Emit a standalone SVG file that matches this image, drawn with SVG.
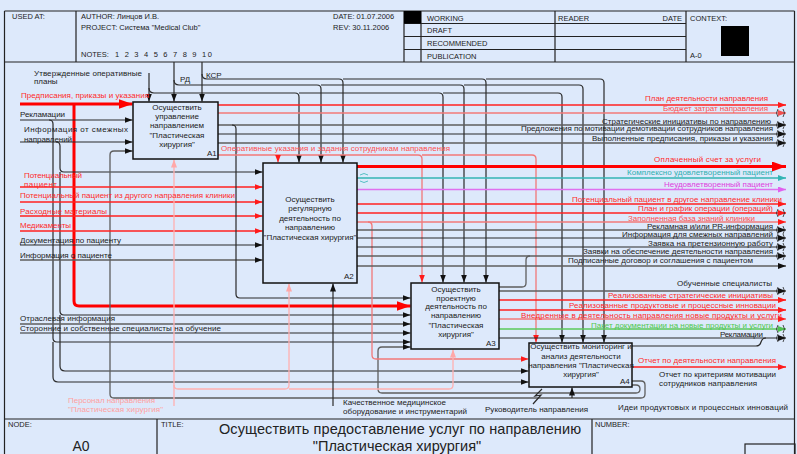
<svg xmlns="http://www.w3.org/2000/svg" width="797" height="454" viewBox="0 0 797 454">
<style>
.bg{fill:#dde9fb}
.fr{fill:none;stroke:#222;stroke-width:1.2}
.k{fill:none;stroke:#2a2a2a;stroke-width:1.2}
.g{fill:none;stroke:#5e5e5e;stroke-width:1.3}
.r{fill:none;stroke:#ff2020;stroke-width:1.3}
.R{fill:none;stroke:#ff0000;stroke-width:3}
.l{fill:none;stroke:#f27878;stroke-width:1.3}
.p{fill:none;stroke:#ffb0b0;stroke-width:1.3}
.t{fill:none;stroke:#33b5b5;stroke-width:1.3}
.m{fill:none;stroke:#e070ee;stroke-width:1.5}
.gr{fill:none;stroke:#5ac85a;stroke-width:1.3}
.tn{fill:none;stroke:#222;stroke-width:0.8}
.box{fill:#dde9fb;stroke:#111;stroke-width:1.5}
text{font-family:"Liberation Sans",Arial,sans-serif;font-size:8px;fill:#222}
.h{font-size:7.5px}
.bt{text-anchor:middle}
.tr{fill:#ff2a2a}
.tl{fill:#ff5050}
.tp{fill:#ffa0a0}
.tt{fill:#30b0b0}
.tm{fill:#e040e0}
.tg{fill:#50c850}
</style>
<defs>
<marker id="ah" viewBox="0 0 8 6" refX="8" refY="3" markerWidth="8" markerHeight="6" markerUnits="userSpaceOnUse" orient="auto"><path d="M0,0 L8,3 L0,6 z" fill="#111"/></marker>
<marker id="ahr" viewBox="0 0 8 6" refX="8" refY="3" markerWidth="8" markerHeight="6" markerUnits="userSpaceOnUse" orient="auto"><path d="M0,0 L8,3 L0,6 z" fill="#ff1a1a"/></marker>
<marker id="ahR" viewBox="0 0 14 10" refX="14" refY="5" markerWidth="14" markerHeight="10" markerUnits="userSpaceOnUse" orient="auto"><path d="M0,0 L14,5 L0,10 z" fill="#ff0000"/></marker>
<marker id="ahl" viewBox="0 0 8 6" refX="8" refY="3" markerWidth="8" markerHeight="6" markerUnits="userSpaceOnUse" orient="auto"><path d="M0,0 L8,3 L0,6 z" fill="#f05050"/></marker>
<marker id="ahp" viewBox="0 0 8 6" refX="8" refY="3" markerWidth="8" markerHeight="6" markerUnits="userSpaceOnUse" orient="auto"><path d="M0,0 L8,3 L0,6 z" fill="#ffa8a8"/></marker>
<marker id="aht" viewBox="0 0 8 6" refX="8" refY="3" markerWidth="8" markerHeight="6" markerUnits="userSpaceOnUse" orient="auto"><path d="M0,0 L8,3 L0,6 z" fill="#33b5b5"/></marker>
<marker id="ahm" viewBox="0 0 8 6" refX="8" refY="3" markerWidth="8" markerHeight="6" markerUnits="userSpaceOnUse" orient="auto"><path d="M0,0 L8,3 L0,6 z" fill="#e060ee"/></marker>
<marker id="ahg" viewBox="0 0 8 6" refX="8" refY="3" markerWidth="8" markerHeight="6" markerUnits="userSpaceOnUse" orient="auto"><path d="M0,0 L8,3 L0,6 z" fill="#50c050"/></marker>
</defs>
<rect class="bg" x="0" y="0" width="797" height="454"/>

<g id="frame">
<path class="fr" d="M4.5,11 H794.5 M4.5,11 V454 M794.5,11 V454 M4.5,62 H794.5 M4.5,419 H794.5"/>
<path class="fr" d="M76,11 V62 M404,11 V62 M421,11 V62 M555,11 V62 M686,11 V62 M404,23.5 H686 M404,36.5 H686 M404,49.5 H686"/>
<rect x="404" y="11" width="17" height="12.5" fill="#000"/>
<rect x="721" y="26" width="28" height="30" fill="#000"/>
<text class="h" x="12" y="18.5">USED AT:</text>
<text class="h" x="81" y="18.5">AUTHOR:  Линцов И.В.</text>
<text class="h" x="81" y="30">PROJECT:  Система "Medical Club"</text>
<text class="h" x="81" y="57">NOTES:</text>
<text class="h" x="115" y="57" textLength="97">1 2 3 4 5 6 7 8 9 10</text>
<text class="h" x="333" y="18.5">DATE:  01.07.2006</text>
<text class="h" x="333" y="30">REV:    30.11.2006</text>
<text class="h" x="427" y="20.5">WORKING</text>
<text class="h" x="427" y="33">DRAFT</text>
<text class="h" x="427" y="46">RECOMMENDED</text>
<text class="h" x="427" y="58.5">PUBLICATION</text>
<text class="h" x="558" y="20.5">READER</text>
<text class="h" x="682" y="20.5" text-anchor="end">DATE</text>
<text class="h" x="690" y="20.5">CONTEXT:</text>
<text class="h" x="690" y="58">A-0</text>
<path class="fr" d="M157,419 V454 M592,419 V454"/>
<rect x="745" y="444" width="50" height="12" fill="none" stroke="#222" stroke-width="1.2"/>
<text class="h" x="8" y="427">NODE:</text>
<text class="h" x="161" y="427">TITLE:</text>
<text class="h" x="595" y="427">NUMBER:</text>
<text x="81" y="451" text-anchor="middle" style="font-size:14px">A0</text>
<text x="219" y="434" textLength="362" style="font-size:14.5px">Осуществить предоставление услуг по направлению</text>
<text x="397" y="451" text-anchor="middle" style="font-size:14.5px">"Пластическая хирургия"</text>
</g>

<g id="connectors">
<path class="k" d="M149,73 V101.5" marker-end="url(#ah)"/>
<path class="k" d="M149,88 Q149,93 154,93 H295 Q299,93 299,97 V162.5" marker-end="url(#ah)"/>
<path class="k" d="M299,93 H439 Q443,93 443,97 V282.5" marker-end="url(#ah)"/>
<path class="k" d="M443,93 H558 Q562,93 562,97 V342.5" marker-end="url(#ah)"/>
<path class="k" d="M174,62 V101.5" marker-end="url(#ah)"/>
<path class="k" d="M174,80 Q174,85 179,85 H317 Q321,85 321,89 V162.5" marker-end="url(#ah)"/>
<path class="k" d="M321,85 H460 Q464,85 464,89 V282.5" marker-end="url(#ah)"/>
<path class="k" d="M464,85 H579 Q583,85 583,89 V342.5" marker-end="url(#ah)"/>
<path class="k" d="M202,62 V101.5" marker-end="url(#ah)"/>
<path class="k" d="M202,74 Q202,79 207,79 H339 Q343,79 343,83 V162.5" marker-end="url(#ah)"/>
<path class="k" d="M343,79 H482 Q486,79 486,83 V282.5" marker-end="url(#ah)"/>
<path class="k" d="M486,79 H600 Q604,79 604,83 V342.5" marker-end="url(#ah)"/>
<path class="R" d="M20,104 H132.5" marker-end="url(#ahR)"/>
<path class="R" d="M74,104 V301 Q74,306 79,306 H410.5" marker-end="url(#ahR)"/>
<path class="k" d="M20,120 H132.5" marker-end="url(#ah)"/>
<path class="k" d="M49,120 Q53,120 53,124 V338 Q53,342 57,342 H410.5" marker-end="url(#ah)"/>
<path class="k" d="M53,342 V377 Q53,382 58,382 H528.5" marker-end="url(#ah)"/>
<path class="k" d="M20,142 H132.5" marker-end="url(#ah)"/>
<path class="k" d="M56,142 Q60,142 60,146 V168 Q60,172 64,172 H262.5" marker-end="url(#ah)"/>
<path class="k" d="M60,172 V311 Q60,315 64,315 H410.5" marker-end="url(#ah)"/>
<path class="k" d="M60,315 V366 Q60,371 65,371 H528.5" marker-end="url(#ah)"/>
<path class="g" d="M632,381 H641 Q645,381 645,385 V394 Q645,398 641,398 H114 Q110,398 110,394 V155 Q110,151 114,151 H132.5" marker-end="url(#ah)"/>
<path class="g" d="M632,385 H636 Q640,385 640,389 Q640,393 636,393 H382 Q378,393 378,389 V351 Q378,347 382,347 H410.5" marker-end="url(#ah)"/>
<path class="r" d="M20,187 H262.5" marker-end="url(#ahr)"/>
<path class="r" d="M20,202 H262.5" marker-end="url(#ahr)"/>
<path class="r" d="M20,216 H262.5" marker-end="url(#ahr)"/>
<path class="r" d="M20,231 H262.5" marker-end="url(#ahr)"/>
<path class="k" d="M20,245 H262.5" marker-end="url(#ah)"/>
<path class="g" d="M20,260 H262.5" marker-end="url(#ah)"/>
<path class="g" d="M20,324 H410.5" marker-end="url(#ah)"/>
<path class="k" d="M20,333 H410.5" marker-end="url(#ah)"/>
<path class="r" d="M218,105 H786" marker-end="url(#ahr)"/>
<path class="l" d="M218,113 H786" marker-end="url(#ahl)"/>
<path class="g" d="M218,125 H786" marker-end="url(#ah)"/>
<path class="k" d="M218,134 H786" marker-end="url(#ah)"/>
<path class="g" d="M218,143 H786" marker-end="url(#ah)"/>
<path class="k" d="M232,125 Q236,125 236,129 V294 Q236,298 240,298 H410.5" marker-end="url(#ah)"/>
<path class="l" d="M218,155 H418 Q422,155 422,159 V282.5" marker-end="url(#ahr)"/>
<path class="l" d="M422,155 H532 Q536,155 536,159 V342.5" marker-end="url(#ahr)"/>
<path class="l" d="M278,155 V162.5" marker-end="url(#ahr)"/>
<path class="R" d="M357,166.5 H786" marker-end="url(#ahR)"/>
<path class="t" d="M357,178 H786" marker-end="url(#aht)"/>
<path class="m" d="M357,189.5 H786" marker-end="url(#ahm)"/>
<path class="r" d="M357,204 H786" marker-end="url(#ahr)"/>
<path class="r" d="M357,213 H786" marker-end="url(#ahr)"/>
<path class="l" d="M357,222 H786" marker-end="url(#ahr)"/>
<path class="l" d="M368,222 Q372,222 372,226 V355 Q372,359 376,359 H528.5" marker-end="url(#ahr)"/>
<path class="g" d="M357,230 H786" marker-end="url(#ah)"/>
<path class="k" d="M357,238 H786" marker-end="url(#ah)"/>
<path class="k" d="M357,247 H786" marker-end="url(#ah)"/>
<path class="g" d="M357,256 H786" marker-end="url(#ah)"/>
<path class="g" d="M357,266 H786" marker-end="url(#ah)"/>
<path class="g" d="M499,287 H522 Q526,287 526,283 V260 Q526,256 530,256"/>
<path class="g" d="M499,291 H786" marker-end="url(#ah)"/>
<path class="r" d="M499,300 H786" marker-end="url(#ahr)"/>
<path class="r" d="M499,310 H786" marker-end="url(#ahr)"/>
<path class="l" d="M499,319 H786" marker-end="url(#ahr)"/>
<path class="gr" d="M499,329 H786" marker-end="url(#ahg)"/>
<path class="k" d="M499,338 H786" marker-end="url(#ah)"/>
<path class="k" d="M632,346 H756 Q760,346 761,342 Q762,338 766,338"/>
<path class="r" d="M632,367 H786" marker-end="url(#ahr)"/>
<path class="p" d="M174,406 V159.5" marker-end="url(#ahp)"/>
<path class="p" d="M174,385 Q174,389 178,389 H285 Q289,389 289,385 V283.5" marker-end="url(#ahp)"/>
<path class="p" d="M289,389 H449 Q453,389 453,385 V349.5" marker-end="url(#ahp)"/>
<path class="k" d="M333,406 V283.5" marker-end="url(#ah)"/>
<path class="k" d="M572,398 V387.5" marker-end="url(#ah)"/>
<path class="k" d="M533,404 L541,395 L535,396 L542,389"/>
<path class="tn" style="stroke:#33b5b5" d="M360,175 Q364,172 368,175 M360,181 Q364,184 368,181"/>
<path class="tn" d="M778,109 Q775,113 778,117 M783,109 Q786,113 783,117 M778,121 Q775,125 778,129 M783,121 Q786,125 783,129 M778,130 Q775,134 778,138 M783,130 Q786,134 783,138 M778,139 Q775,143 778,147 M783,139 Q786,143 783,147 M778,209 Q775,213 778,217 M783,209 Q786,213 783,217 M778,226 Q775,230 778,234 M783,226 Q786,230 783,234 M778,234 Q775,238 778,242 M783,234 Q786,238 783,242 M778,243 Q775,247 778,251 M783,243 Q786,247 783,251 M778,252 Q775,256 778,260 M783,252 Q786,256 783,260 M778,287 Q775,291 778,295 M783,287 Q786,291 783,295 M778,325 Q775,329 778,333 M783,325 Q786,329 783,333 M778,334 Q775,338 778,342 M783,334 Q786,338 783,342"/>
</g>

<g id="A1">
<rect class="box" x="133" y="102" width="85" height="57"/>
<text class="bt" x="177" y="109.5">Осуществить</text>
<text class="bt" x="177" y="118.7">управление</text>
<text class="bt" x="177" y="128.4">направлением</text>
<text class="bt" x="177" y="137.7">"Пластическая</text>
<text class="bt" x="177" y="147">хирургия"</text>
<text x="207" y="156">A1</text>
</g>
<g id="A2">
<rect class="box" x="263" y="163" width="94" height="120"/>
<text class="bt" x="310" y="202">Осуществить</text>
<text class="bt" x="310" y="211">регулярную</text>
<text class="bt" x="310" y="221">деятельность по</text>
<text class="bt" x="310" y="230.4">направлению</text>
<text class="bt" x="310" y="240">"Пластическая хирургия"</text>
<text x="344" y="279">A2</text>
</g>
<g id="A3">
<rect class="box" x="411" y="283" width="88" height="66"/>
<text class="bt" x="456" y="292">Осуществить</text>
<text class="bt" x="456" y="301">проектную</text>
<text class="bt" x="456" y="309.4">деятельность по</text>
<text class="bt" x="456" y="318.4">направлению</text>
<text class="bt" x="456" y="327.7">"Пластическая</text>
<text class="bt" x="456" y="336.7">хирургия"</text>
<text x="486" y="346">A3</text>
</g>
<g id="A4">
<rect class="box" x="529" y="343" width="103" height="44"/>
<text class="bt" x="581" y="348.5">Осуществить мониторинг и</text>
<text class="bt" x="581" y="358.5">анализ деятельности</text>
<text class="bt" x="581" y="368">направления "Пластическая</text>
<text class="bt" x="581" y="377">хирургия"</text>
<text x="620" y="384">A4</text>
</g>

<g id="labels">
<text x="34" y="75.7" textLength="108">Утвержденные оперативные</text>
<text x="34" y="84.4">планы</text>
<text x="180" y="81.7">РД</text>
<text x="206" y="77.7">КСР</text>
<text class="tr" x="21" y="97.7" textLength="128">Предписания, приказы и указания</text>
<text x="20" y="117" textLength="45">Рекламации</text>
<text x="24" y="131.7" textLength="104">Информация от смежных</text>
<text x="24" y="141.7" textLength="48">направлений</text>
<text class="tr" x="24" y="177.7" textLength="58">Потенциальный</text>
<text class="tr" x="24" y="186.5" textLength="33">пациент</text>
<text class="tr" x="20" y="197.7" textLength="215">Потенциальный пациент из другого направления клиники</text>
<text class="tr" x="20" y="214.4" textLength="87">Расходные материалы</text>
<text class="tr" x="20" y="227.7" textLength="51">Медикаменты</text>
<text x="20" y="243.4" textLength="101">Документация по пациенту</text>
<text x="20" y="257.7" textLength="92">Информация о пациенте</text>
<text x="20" y="321" textLength="95">Отраслевая информация</text>
<text x="20" y="330.5" textLength="201">Сторонние и собственные специалисты на обучение</text>
<text class="tl" x="221" y="151" textLength="229">Оперативные указания и задания сотрудникам направления</text>
<text class="tp" x="68" y="403" textLength="87">Персонал направления</text>
<text class="tp" x="68" y="411.5" textLength="95">"Пластическая хирургия"</text>
<text x="343" y="404.5" textLength="103">Качественное медицинское</text>
<text x="343" y="414" textLength="124">оборудование и инструментарий</text>
<text x="485" y="411.5" textLength="103">Руководитель направления</text>
<text x="618" y="410" textLength="170">Идеи продуктовых и процессных инноваций</text>
<text class="tr" x="645" y="101" textLength="123">План деятельности направления</text>
<text class="tl" x="663" y="111" textLength="105">Бюджет затрат направления</text>
<text x="602" y="123.5" textLength="169">Стратегические инициативы по направлению</text>
<text x="521" y="131" textLength="252">Предложения по мотивации демотивации сотрудников направления</text>
<text x="592" y="141" textLength="181">Выполненные предписания, приказы и указания</text>
<text class="tr" x="654" y="162" textLength="107">Оплаченный счет за услуги</text>
<text class="tt" x="627" y="174.5" textLength="146">Комплексно удовлетворенный пациент</text>
<text class="tm" x="664" y="187.3" textLength="109">Неудовлетворенный пациент</text>
<text class="tr" x="572" y="201.5" textLength="210">Потенциальный пациент в другое направление клиники</text>
<text class="tr" x="638" y="211" textLength="135">План и график операции (операций)</text>
<text class="tl" x="628" y="221" textLength="127">Заполненная база знаний клиники</text>
<text x="647" y="228.5" textLength="126">Рекламная и/или PR-информация</text>
<text x="622" y="236.7" textLength="151">Информация для смежных направлений</text>
<text x="648" y="246" textLength="125">Заявка на претензионную работу</text>
<text x="583" y="254.4" textLength="190">Заявки на обеспечение деятельности направления</text>
<text x="568" y="263.4" textLength="185">Подписанные договор и соглашения с пациентом</text>
<text x="677" y="286" textLength="95">Обученные специалисты</text>
<text class="tr" x="608" y="297.7" textLength="165">Реализованные стратегические инициативы</text>
<text class="tr" x="569" y="307.7" textLength="207">Реализованные продуктовые и процессные инновации</text>
<text class="tr" x="521" y="317.7" textLength="261">Внедренные в деятельность направления новые продукты и услуги</text>
<text class="tg" x="591" y="327.7" textLength="182">Пакет документации на новые продукты и услуги</text>
<text x="720" y="337" textLength="43">Рекламации</text>
<text class="tr" x="638" y="363.4" textLength="138">Отчет по деятельности направления</text>
<text x="659" y="377" textLength="117">Отчет по критериям мотивации</text>
<text x="659" y="386" textLength="98">сотрудников направления</text>
</g>
</svg>
